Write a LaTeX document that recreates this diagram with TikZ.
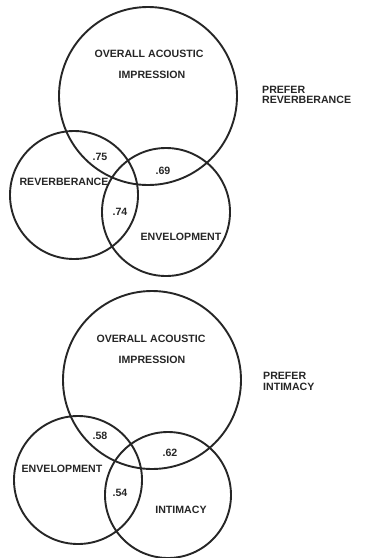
\documentclass[tikz,border=0pt]{standalone}
\usepackage{fontspec}
\setsansfont{Liberation Sans}
\usepackage{tikz}

\tikzset{
  ring/.style={line width=1.9pt, draw=black!85},
  lbl/.style={font=\sffamily\bfseries\fontsize{10.6}{10.8}\selectfont, inner sep=0pt, text=black!85},
}

\begin{document}
\begin{tikzpicture}[x=1pt,y=-1pt]
  \useasboundingbox (0,0) rectangle (369,558);
  % Reverberance
  \draw[ring] (148,96) circle (89pt);
  \draw[ring] (74,195) circle (64pt);
  \draw[ring] (166,212) circle (64pt);
  \node[lbl] (ovA) at (149,54) {OVERALL ACOUSTIC};
  \node[lbl] (imA) at (152,75) {IMPRESSION};
  \node[lbl] (revA) at (64,182) {REVERBERANCE};
  \node[lbl] (envA) at (181,237) {ENVELOPMENT};
  \node[lbl] (c75) at (100,157) {.75};
  \node[lbl] (c69) at (163,171) {.69};
  \node[lbl] (c74) at (120,212) {.74};
  \node[lbl, anchor=west, align=left] (prA) at (262,95) {PREFER\\REVERBERANCE};
  % Intimacy
  \draw[ring] (152,380) circle (89pt);
  \draw[ring] (78,480) circle (64pt);
  \draw[ring] (168,495) circle (63pt);
  \node[lbl] (ovB) at (151,339) {OVERALL ACOUSTIC};
  \node[lbl] (imB) at (152,360) {IMPRESSION};
  \node[lbl] (envB) at (62,469) {ENVELOPMENT};
  \node[lbl] (intB) at (181,510) {INTIMACY};
  \node[lbl] (c58) at (100,436) {.58};
  \node[lbl] (c62) at (170,453) {.62};
  \node[lbl] (c54) at (120,493) {.54};
  \node[lbl, anchor=west, align=left] (prB) at (263,381) {PREFER\\INTIMACY};
\end{tikzpicture}
\end{document}
